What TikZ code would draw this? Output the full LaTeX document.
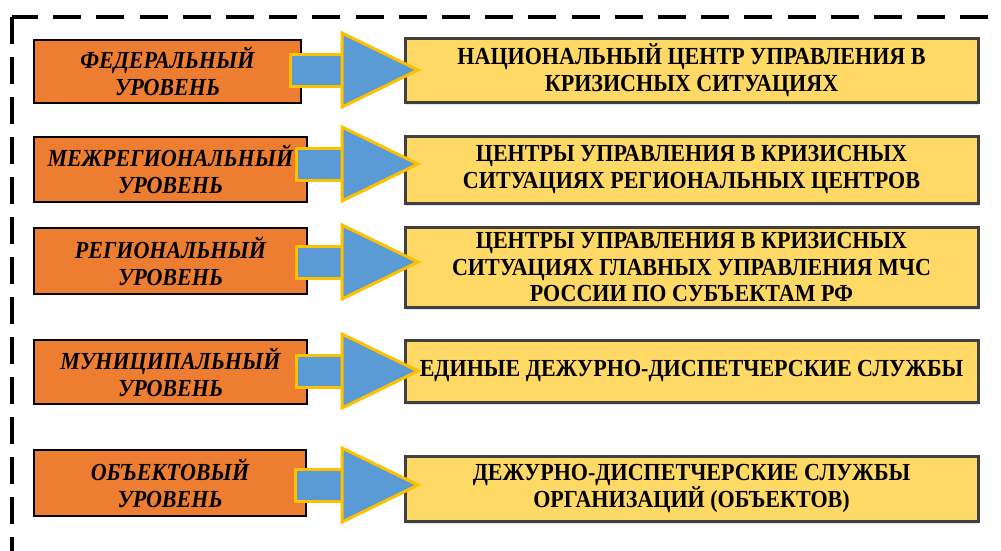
\documentclass[tikz,border=0pt]{standalone}
\usepackage{fontspec}
\setmainfont[FakeStretch=0.9]{Liberation Serif}
\usetikzlibrary{calc,shadows}

\definecolor{levelorange}{HTML}{ED7D31}
\definecolor{boxyellow}{HTML}{FFD966}
\definecolor{boxgray}{HTML}{404040}
\definecolor{arrowblue}{HTML}{5B9BD5}
\definecolor{arrowgold}{HTML}{FFC000}
\definecolor{shadowblue}{HTML}{B4C7E7}

\tikzset{
  frameline/.style={line width=3.5pt, black},
  levelbox/.style={draw=black, line width=1.2pt, fill=levelorange, outer sep=0pt,
    inner sep=0pt, align=center,
    font=\bfseries\itshape\fontsize{24.5}{27}\selectfont},
  unitbox/.style={draw=boxgray, line width=3pt, fill=boxyellow, outer sep=0pt,
    inner sep=0pt, align=center, minimum width=573pt,
    drop shadow={shadow xshift=1pt, shadow yshift=-3pt, fill=shadowblue, opacity=0.5},
    font=\bfseries\fontsize{24.5}{26.5}\selectfont},
  arrowpart/.style={fill=arrowblue, draw=arrowgold, line width=3pt, line join=miter},
}

% block arrow from a level box to its unit box, centred at height #3
\newcommand\levelarrow[3]{%
  \draw[arrowpart] let \p1=(#1.east), \p2=(#2.west) in
    (\x1-11pt, -#3pt+16pt) rectangle (\x2-63pt, -#3pt-16pt);
  \draw[arrowpart] let \p2=(#2.west) in
    (\x2-63pt, -#3pt+37pt) -- (\x2+13pt, -#3pt) -- (\x2-63pt, -#3pt-37pt) -- cycle;
}

\begin{document}
\begin{tikzpicture}[x=1pt, y=-1pt]
\useasboundingbox (0,0) rectangle (1001,550);

% dashed frame (top and left sides)
\coordinate (corner) at (12,17);
\coordinate (topend) at (988,17);
\coordinate (leftend) at (12,565);
\draw[frameline, dash pattern=on 28pt off 15.2pt, dash phase=2pt] (corner) -- (topend);
\draw[frameline, dash pattern=on 27pt off 13pt] (corner) -- (leftend);

% management levels
\node[levelbox, minimum width=267pt, minimum height=63pt] (L1) at (167.5,71.5) {ФЕДЕРАЛЬНЫЙ\\УРОВЕНЬ};
\node[levelbox, minimum width=273pt, minimum height=65pt] (L2) at (170.5,169.5) {МЕЖРЕГИОНАЛЬНЫЙ\\УРОВЕНЬ};
\node[levelbox, minimum width=273pt, minimum height=66pt] (L3) at (170.5,261) {РЕГИОНАЛЬНЫЙ\\УРОВЕНЬ};
\node[levelbox, minimum width=273pt, minimum height=64pt] (L4) at (170.5,372) {МУНИЦИПАЛЬНЫЙ\\УРОВЕНЬ};
\node[levelbox, minimum width=272pt, minimum height=66pt] (L5) at (170,483) {ОБЪЕКТОВЫЙ\\УРОВЕНЬ};

% control bodies
\node[unitbox, minimum height=64pt] (R1) at (691.5,70) {НАЦИОНАЛЬНЫЙ ЦЕНТР УПРАВЛЕНИЯ В\\КРИЗИСНЫХ СИТУАЦИЯХ};
\node[unitbox, minimum height=67pt] (R2) at (691.5,169.5) {ЦЕНТРЫ УПРАВЛЕНИЯ В КРИЗИСНЫХ\\СИТУАЦИЯХ РЕГИОНАЛЬНЫХ ЦЕНТРОВ};
\node[unitbox, minimum height=80pt] (R3) at (691.5,267) {ЦЕНТРЫ УПРАВЛЕНИЯ В КРИЗИСНЫХ\\СИТУАЦИЯХ ГЛАВНЫХ УПРАВЛЕНИЯ МЧС\\РОССИИ ПО СУБЪЕКТАМ РФ};
\node[unitbox, minimum height=62pt] (R4) at (691.5,371) {ЕДИНЫЕ ДЕЖУРНО-ДИСПЕТЧЕРСКИЕ СЛУЖБЫ};
\node[unitbox, minimum height=65pt] (R5) at (691.5,488.5) {ДЕЖУРНО-ДИСПЕТЧЕРСКИЕ СЛУЖБЫ\\ОРГАНИЗАЦИЙ (ОБЪЕКТОВ)};

% arrows
\levelarrow{L1}{R1}{70}
\levelarrow{L2}{R2}{164}
\levelarrow{L3}{R3}{262}
\levelarrow{L4}{R4}{371}
\levelarrow{L5}{R5}{485}
\end{tikzpicture}
\end{document}
